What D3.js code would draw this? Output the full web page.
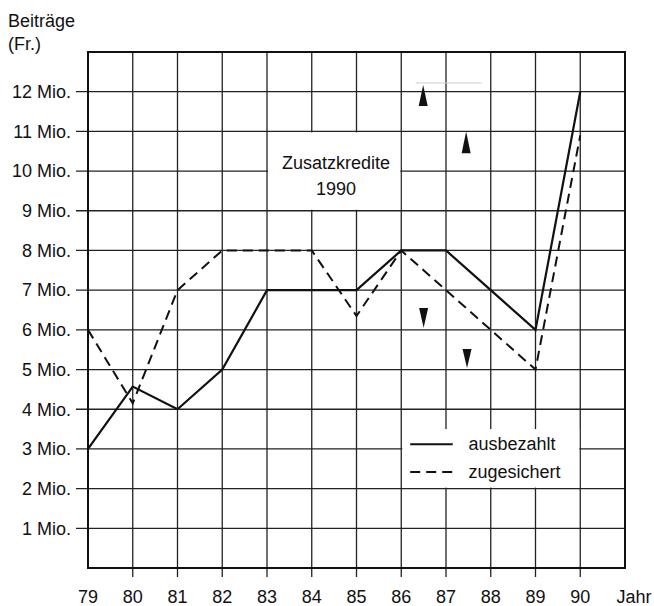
<!DOCTYPE html>
<html>
<head>
<meta charset="utf-8">
<script src="https://cdn.jsdelivr.net/npm/d3@7"></script>
<style>
  body { margin: 0; background: #fff; }
  text { font-family: "Liberation Sans", Arial, sans-serif; fill: #111; }
</style>
</head>
<body>
<div class="svg-container"></div>
<script>
//data
const years = [79, 80, 81, 82, 83, 84, 85, 86, 87, 88, 89, 90];
const ausbezahlt = [3, 4.57, 4, 5, 7, 7, 7, 8, 8, 7, 6, 12];
const zugesichert = [6, 4.15, 7, 8, 8, 8, 6.35, 8, 7, 6, 5, 10.9];
const yTicks = [1, 2, 3, 4, 5, 6, 7, 8, 9, 10, 11, 12];
const yTickLabels = yTicks.map(v => v + ' Mio.');
const xTickLabels = years.map(String);
//arrow markers: [year, tip value, base value]
const arrowsUp = [[86.49, 12.17, 11.64], [87.45, 11.0, 10.45]];
const arrowsDown = [[86.5, 6.05, 6.55], [87.47, 5.04, 5.52]];

const W = 654, H = 606;
const fs = 18;
const svg = d3.select('.svg-container').append('svg')
    .attr('width', W).attr('height', H);

const x = d3.scaleLinear().domain([79, 91]).range([88, 625]);
const y = d3.scaleLinear().domain([0, 13]).range([568, 52]);

const grid = svg.append('g').attr('stroke', '#222').attr('stroke-width', 1.3);

//horizontal grid + ticks to the left
grid.selectAll('.hline')
    .data(yTicks)
    .join('line')
    .attr('x1', x(79) - 12).attr('x2', x(91))
    .attr('y1', d => y(d)).attr('y2', d => y(d));

//vertical grid + ticks below
grid.selectAll('.vline')
    .data(years.slice(1))
    .join('line')
    .attr('x1', d => x(d)).attr('x2', d => x(d))
    .attr('y1', y(13)).attr('y2', y(0) + 9);

//white boxes cut out of the grid
svg.append('rect')
    .attr('x', x(83) + 1).attr('y', y(11) + 1)
    .attr('width', x(86) - x(83) - 2).attr('height', y(9) - y(11) - 2)
    .attr('fill', '#fff');
svg.append('rect')
    .attr('x', x(86) + 1).attr('y', y(3.5))
    .attr('width', x(90) - x(86) - 2).attr('height', y(2) - y(3.5) - 1)
    .attr('fill', '#fff');

//frame
svg.append('rect')
    .attr('x', x(79)).attr('y', y(13))
    .attr('width', x(91) - x(79)).attr('height', y(0) - y(13))
    .attr('fill', 'none').attr('stroke', '#111').attr('stroke-width', 2);

//y labels
svg.selectAll('.ylab')
    .data(yTicks)
    .join('text')
    .attr('x', 71)
    .attr('y', d => y(d))
    .attr('dy', '0.35em')
    .attr('text-anchor', 'end')
    .attr('font-size', fs)
    .text((d, i) => yTickLabels[i]);

//x labels
svg.selectAll('.xlab')
    .data(years)
    .join('text')
    .attr('x', d => x(d))
    .attr('y', 603)
    .attr('text-anchor', 'middle')
    .attr('font-size', fs)
    .text((d, i) => xTickLabels[i]);

svg.append('text').attr('x', 634).attr('y', 603).attr('text-anchor', 'middle')
    .attr('font-size', fs).text('Jahr');
svg.append('text').attr('x', 8).attr('y', 27).attr('font-size', fs).text('Beiträge');
svg.append('text').attr('x', 8).attr('y', 50).attr('font-size', fs).text('(Fr.)');

//annotation
svg.append('text').attr('x', x(84.54)).attr('y', y(10.05)).attr('text-anchor', 'middle')
    .attr('font-size', fs).text('Zusatzkredite');
svg.append('text').attr('x', x(84.54)).attr('y', y(9.4)).attr('text-anchor', 'middle')
    .attr('font-size', fs).text('1990');

//lines
const line = d3.line().x(d => x(d[0])).y(d => y(d[1]));
svg.append('path')
    .datum(years.map((yr, i) => [yr, zugesichert[i]]))
    .attr('d', line)
    .attr('fill', 'none').attr('stroke', '#111').attr('stroke-width', 2)
    .attr('stroke-dasharray', '10,6');
svg.append('path')
    .datum(years.map((yr, i) => [yr, ausbezahlt[i]]))
    .attr('d', line)
    .attr('fill', 'none').attr('stroke', '#111').attr('stroke-width', 2.2);

//arrows
const tri = d => {
    const cx = x(d[0]), tip = y(d[1]), base = y(d[2]);
    return `M${cx},${tip}L${cx + 4.5},${base}L${cx - 4.5},${base}Z`;
};
svg.selectAll('.arrow')
    .data(arrowsUp.concat(arrowsDown))
    .join('path')
    .attr('d', tri)
    .attr('fill', '#111');

//faint line above first arrow
svg.append('line')
    .attr('x1', x(86.32)).attr('x2', x(87.8))
    .attr('y1', y(12.22)).attr('y2', y(12.22))
    .attr('stroke', '#ccc').attr('stroke-width', 1);

//legend
const legend = [['ausbezahlt', null, 3.12], ['zugesichert', '10,6', 2.42]];
legend.forEach(l => {
    svg.append('line')
        .attr('x1', x(86.2)).attr('x2', x(87.15))
        .attr('y1', y(l[2])).attr('y2', y(l[2]))
        .attr('stroke', '#111').attr('stroke-width', 2)
        .attr('stroke-dasharray', l[1]);
    svg.append('text')
        .attr('x', x(87.5)).attr('y', y(l[2]))
        .attr('dy', '0.35em')
        .attr('font-size', fs)
        .text(l[0]);
});
</script>
</body>
</html>
